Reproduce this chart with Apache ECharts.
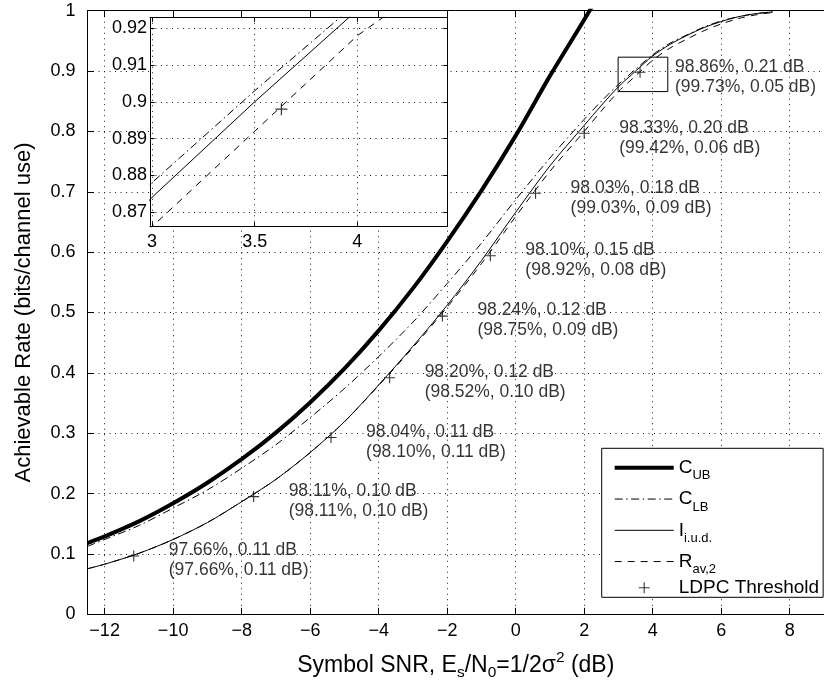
<!DOCTYPE html>
<html><head><meta charset="utf-8">
<script src="https://cdn.jsdelivr.net/npm/echarts@6/dist/echarts.min.js"></script>
<style>html,body{margin:0;padding:0;background:#fff}#c{width:824px;height:693px}</style>
</head><body><div id="c"></div>
<script>
// ---- data ----
const snr   = [-12.5,-12,-11,-10,-9,-8,-7,-6,-5,-4,-3,-2,-1,0,1,2,2.5,3,3.5,4,4.5,5,5.5,6,6.5,7,7.5];
const cUB   = [0.118,0.129,0.154,0.184,0.218,0.257,0.301,0.351,0.407,0.470,0.540,0.618,0.702,0.793,0.892,0.985,1.033];
const cLB   = [0.1125,0.124,0.147,0.176,0.206,0.242,0.281,0.326,0.374,0.427,0.484,0.548,0.615,0.687,0.756,0.820,0.850,0.878,0.903,0.927,0.946,0.960,0.973,0.983,0.990,0.995,0.998];
const iIud  = [0.0755,0.083,0.101,0.124,0.152,0.1865,0.2235,0.268,0.319,0.380,0.444,0.512,0.586,0.666,0.743,0.810,0.843,0.874,0.900,0.925,0.944,0.959,0.972,0.982,0.990,0.995,0.998];
const rAv2  = [0.0755,0.083,0.101,0.124,0.152,0.1865,0.2235,0.268,0.319,0.379,0.442,0.509,0.581,0.659,0.734,0.800,0.834,0.866,0.892,0.918,0.938,0.953,0.967,0.978,0.987,0.993,0.997];
const ldpcSnr  = [-11.15,-7.65,-5.39,-3.68,-2.14,-0.74,0.58,2.0,3.63];
const ldpcRate = [0.0966,0.195,0.293,0.392,0.494,0.594,0.6975,0.797,0.898];
const annLine1 = ['97.66%, 0.11 dB','98.11%, 0.10 dB','98.04%, 0.11 dB','98.20%, 0.12 dB','98.24%, 0.12 dB','98.10%, 0.15 dB','98.03%, 0.18 dB','98.33%, 0.20 dB','98.86%, 0.21 dB'];
const annLine2 = ['(97.66%, 0.11 dB)','(98.11%, 0.10 dB)','(98.10%, 0.11 dB)','(98.52%, 0.10 dB)','(98.75%, 0.09 dB)','(98.92%, 0.08 dB)','(99.03%, 0.09 dB)','(99.42%, 0.06 dB)','(99.73%, 0.05 dB)'];
const mainX = [-12.5, 9];
const mainY = [0, 1];
const insetX = [2.99, 4.44];
const insetY = [0.866, 0.923];
const legendNames = ['C_UB','C_LB','I_iud','R_av2','LDPC Threshold'];

// ---- helpers ----
const FF = '"Liberation Sans", Arial, Helvetica, sans-serif';
const pair = (xs, ys) => ys.map((y, i) => [xs[i], y]);
const CROSS = 'path://M4.5,0H5.5V10H4.5ZM0,4.5H10V5.5H0Z';
const dashDot = [8, 3.5, 1.5, 3.5];
const dashed = [7, 6];
const dotted = [1, 4.5];
const GRIDC = '#1a1a1a';
const TICKFS = 18;

const chart = echarts.init(document.getElementById('c'), null, {renderer: 'canvas'});

const mainAxisCommon = {
  axisLine: {show: true, onZero: false, lineStyle: {color: '#000', width: 1}},
  axisTick: {show: true, inside: true, length: 6.5, lineStyle: {color: '#000'}},
};
const insetAxisCommon = {
  axisLine: {show: true, onZero: false, lineStyle: {color: '#000', width: 1}},
  axisTick: {show: true, inside: true, length: 4.5, lineStyle: {color: '#000'}},
  z: 11
};
const fmtMinus = v => String(v).replace('-', '\u2212');

const subRich = {
  m: {fontSize: 19, lineHeight: 29, fontFamily: FF, color: '#000'},
  s: {fontSize: 13, lineHeight: 13, padding: [16, 0, 0, 0], fontFamily: FF, color: '#000'}
};
const legendLabel = {
  'C_UB': '{m|C}{s|UB}',
  'C_LB': '{m|C}{s|LB}',
  'I_iud': '{m|I}{s|i.u.d.}',
  'R_av2': '{m|R}{s|av,2}',
  'LDPC Threshold': '{m|LDPC Threshold}'
};
const lineWidths = {'C_UB': 4, 'C_LB': 1, 'I_iud': 1, 'R_av2': 1};

const option = {
  animation: false,
  backgroundColor: '#fff',
  textStyle: {fontFamily: FF, color: '#000'},
  grid: [
    {left: 87.5, top: 10.7, right: -7.6, bottom: 78.7, containLabel: false},
    {left: 150, top: 17.3, width: 297.7, height: 209.4, show: true, backgroundColor: '#fff', borderWidth: 0, z: 10}
  ],
  xAxis: [
    Object.assign({}, mainAxisCommon, {
      type: 'value', gridIndex: 0, position: 'bottom', min: mainX[0], max: mainX[1],
      minInterval: 2, maxInterval: 2,
      axisLabel: {show: true, fontSize: TICKFS, color: '#000', fontFamily: FF, margin: 8,
                  showMinLabel: false, showMaxLabel: false, formatter: fmtMinus},
      splitLine: {show: true, lineStyle: {color: GRIDC, type: dotted, width: 1}},
      name: '{m|Symbol SNR, E}{s|s}{m|/N}{s|0}{m|=1/2σ}{p|2}{m| (dB)}',
      nameLocation: 'middle', nameGap: 36,
      nameTextStyle: {fontFamily: FF, fontSize: 23, color: '#000', rich: {
        m: {fontSize: 23, lineHeight: 30, fontFamily: FF, color: '#000'},
        s: {fontSize: 15.5, lineHeight: 15, padding: [15, 0, 0, 0], fontFamily: FF, color: '#000'},
        p: {fontSize: 15.5, lineHeight: 15, padding: [0, 0, 15, 0], fontFamily: FF, color: '#000'}
      }}
    }),
    Object.assign({}, mainAxisCommon, {
      type: 'value', gridIndex: 0, position: 'top', min: mainX[0], max: mainX[1],
      minInterval: 2, maxInterval: 2,
      axisLabel: {show: false}, splitLine: {show: false}
    }),
    Object.assign({}, insetAxisCommon, {
      type: 'value', gridIndex: 1, position: 'bottom', min: insetX[0], max: insetX[1],
      minInterval: 0.5, maxInterval: 0.5,
      axisLabel: {show: true, fontSize: TICKFS, color: '#000', fontFamily: FF, margin: 6,
                  showMinLabel: false, showMaxLabel: false},
      splitLine: {show: true, lineStyle: {color: GRIDC, type: dotted, width: 1}}
    }),
    Object.assign({}, insetAxisCommon, {
      type: 'value', gridIndex: 1, position: 'top', min: insetX[0], max: insetX[1],
      minInterval: 0.5, maxInterval: 0.5,
      axisLabel: {show: false}, splitLine: {show: false}
    })
  ],
  yAxis: [
    Object.assign({}, mainAxisCommon, {
      type: 'value', gridIndex: 0, position: 'left', min: mainY[0], max: mainY[1], interval: 0.1,
      axisLabel: {show: true, fontSize: TICKFS, color: '#000', fontFamily: FF, margin: 12},
      splitLine: {show: true, lineStyle: {color: GRIDC, type: dotted, width: 1}},
      name: 'Achievable Rate (bits/channel use)', nameLocation: 'middle', nameGap: 53,
      nameTextStyle: {fontFamily: FF, fontSize: 22, color: '#000'}
    }),
    Object.assign({}, insetAxisCommon, {
      type: 'value', gridIndex: 1, position: 'left', min: insetY[0], max: insetY[1],
      minInterval: 0.01, maxInterval: 0.01,
      axisLabel: {show: true, fontSize: TICKFS, color: '#000', fontFamily: FF, margin: 3,
                  showMinLabel: false, showMaxLabel: false},
      splitLine: {show: true, lineStyle: {color: GRIDC, type: dotted, width: 1}}
    }),
    Object.assign({}, insetAxisCommon, {
      type: 'value', gridIndex: 1, position: 'right', min: insetY[0], max: insetY[1],
      minInterval: 0.01, maxInterval: 0.01,
      axisLabel: {show: false}, splitLine: {show: false}
    })
  ],
  legend: {
    orient: 'vertical', left: 601.7, top: 448.3, padding: [5, 4, 0, 11],
    itemGap: 2.25, itemWidth: 59, itemHeight: 11,
    backgroundColor: '#fff', borderColor: '#000', borderWidth: 1, borderRadius: 0,
    selectedMode: false,
    data: legendNames.map(n => n === 'LDPC Threshold'
      ? {name: n}
      : {name: n, itemStyle: {opacity: 0}, lineStyle: {width: lineWidths[n], color: '#000'}}),
    formatter: n => legendLabel[n] || n,
    textStyle: {fontFamily: FF, fontSize: 19, color: '#000', rich: subRich}
  },
  series: [
    {name: 'C_UB', type: 'line', xAxisIndex: 0, yAxisIndex: 0, data: pair(snr, cUB),
     smooth: 0.3, symbol: 'none', showSymbol: false, clip: true,
     lineStyle: {color: '#000', width: 4}, itemStyle: {color: '#000'}, z: 2},
    {name: 'C_LB', type: 'line', xAxisIndex: 0, yAxisIndex: 0, data: pair(snr, cLB),
     smooth: 0.3, symbol: 'none', showSymbol: false, clip: true,
     lineStyle: {color: '#000', width: 1, type: dashDot}, itemStyle: {color: '#000'}, z: 2},
    {name: 'I_iud', type: 'line', xAxisIndex: 0, yAxisIndex: 0, data: pair(snr, iIud),
     smooth: 0.3, symbol: 'none', showSymbol: false, clip: true,
     lineStyle: {color: '#000', width: 1}, itemStyle: {color: '#000'}, z: 2,
     markArea: {silent: true, label: {show: false},
       itemStyle: {color: 'rgba(0,0,0,0)', borderColor: '#000', borderWidth: 1},
       data: [[{coord: [insetX[0], insetY[0]]}, {coord: [insetX[1], insetY[1]]}]]}},
    {name: 'R_av2', type: 'line', xAxisIndex: 0, yAxisIndex: 0, data: pair(snr, rAv2),
     smooth: 0.3, symbol: 'none', showSymbol: false, clip: true,
     lineStyle: {color: '#000', width: 1, type: dashed}, itemStyle: {color: '#000'}, z: 2},
    {name: 'LDPC Threshold', type: 'scatter', xAxisIndex: 0, yAxisIndex: 0, data: pair(ldpcSnr, ldpcRate),
     symbol: CROSS, symbolSize: 11, itemStyle: {color: '#000'}, z: 3,
     label: {show: true, position: [40.5, -10], align: 'left', verticalAlign: 'top',
       fontFamily: FF, fontSize: 17.5, lineHeight: 20, color: '#000',
       formatter: p => annLine1[p.dataIndex] + '\n' + annLine2[p.dataIndex]}},
    // inset
    {name: 'C_LB inset', type: 'line', xAxisIndex: 2, yAxisIndex: 1, data: pair(snr, cLB),
     symbol: 'none', clip: true, lineStyle: {color: '#000', width: 1, type: dashDot}, z: 12},
    {name: 'I_iud inset', type: 'line', xAxisIndex: 2, yAxisIndex: 1, data: pair(snr, iIud),
     symbol: 'none', clip: true, lineStyle: {color: '#000', width: 1}, z: 12},
    {name: 'R_av2 inset', type: 'line', xAxisIndex: 2, yAxisIndex: 1, data: pair(snr, rAv2),
     symbol: 'none', clip: true, lineStyle: {color: '#000', width: 1, type: dashed}, z: 12},
    {name: 'LDPC inset', type: 'scatter', xAxisIndex: 2, yAxisIndex: 1, data: pair(ldpcSnr, ldpcRate),
     symbol: CROSS, symbolSize: 12, itemStyle: {color: '#000'}, clip: true, z: 13}
  ]
};
chart.setOption(option);
</script></body></html>
